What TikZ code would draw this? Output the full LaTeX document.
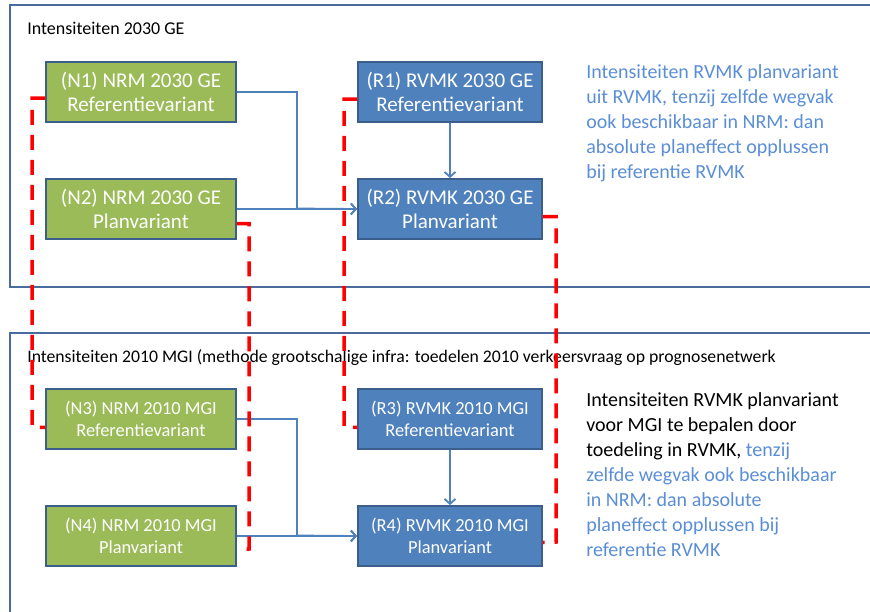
\documentclass[tikz,border=0pt]{standalone}
\usepackage{fontspec}
\setmainfont{Carlito}
\usepackage{xcolor}
\usetikzlibrary{positioning,arrows.meta}
\definecolor{nrmgroen}{HTML}{9BBB59}
\definecolor{rvmkblauw}{HTML}{4F81BD}
\definecolor{randblauw}{HTML}{3B5F8D}
\definecolor{kaderblauw}{HTML}{4A6B9D}
\definecolor{tekstblauw}{HTML}{5A8ED6}

\begin{document}
\begin{tikzpicture}[->,>={Straight Barb[length=5pt,width=11pt]},auto,node distance=117pt,semithick,x=1pt,y=-1pt]
	\tikzstyle{nrm}=[rectangle, draw=randblauw, fill=nrmgroen, text=white, line width=1.8pt, minimum width=190pt, minimum height=60pt, inner sep=0pt]
	\tikzstyle{rvmk}=[nrm, fill=rvmkblauw, minimum width=184pt]
	\tikzstyle{kader}=[-, draw=kaderblauw, line width=2.5pt]
	\tikzstyle{pijl}=[draw=rvmkblauw, line width=1.8pt]
	\tikzstyle{koppel}=[-, draw=red, line width=3.5pt, dash pattern=on 15pt off 10pt]
	\tikzstyle{groot}=[font=\fontsize{21}{24}\selectfont]
	\tikzstyle{klein}=[font=\fontsize{18.4}{22}\selectfont]
	
	\useasboundingbox (0,0) rectangle (870,611);
	
	% kaders
	\draw[kader] (871,5) -- (10,5) -- (10,287) -- (871,287);
	\draw[kader] (871,333) -- (10,333) -- (10,612);
	\node[anchor=base west, inner sep=0pt, font=\fontsize{18}{21}\selectfont] (G1) at (27,34) {Intensiteiten 2030 GE};
	\node[anchor=base west, inner sep=0pt, font=\fontsize{17.7}{21}\selectfont] (G2) at (27,362) {Intensiteiten 2010 MGI (methode grootschalige infra: toedelen 2010 verkeersvraag op prognosenetwerk};
	
	% 2030
	\node[nrm, groot] 	(N1) at (141,92) 	{\parbox{6cm}{\centering (N1) NRM 2030 GE\\Referentievariant}};
	\node[nrm, groot] 	(N2) [below of=N1] 	{\parbox{6cm}{\centering (N2) NRM 2030 GE\\Planvariant}};
	\node[rvmk, groot] 	(R1) [right of=N1, xshift=192pt] 	{\parbox{6cm}{\centering (R1) RVMK 2030 GE\\Referentievariant}};
	\node[rvmk, groot] 	(R2) [below of=R1] 	{\parbox{6cm}{\centering (R2) RVMK 2030 GE\\Planvariant}};
	
	% 2010
	\node[nrm, klein] 	(N3) [below of=N2, yshift=-93pt] 	{\parbox{6cm}{\centering (N3) NRM 2010 MGI\\Referentievariant}};
	\node[nrm, klein] 	(N4) [below of=N3] 	{\parbox{6cm}{\centering (N4) NRM 2010 MGI\\Planvariant}};
	\node[rvmk, klein] 	(R3) [right of=N3, xshift=192pt] 	{\parbox{6cm}{\centering (R3) RVMK 2010 MGI\\Referentievariant}};
	\node[rvmk, klein] 	(R4) [below of=R3] 	{\parbox{6cm}{\centering (R4) RVMK 2010 MGI\\Planvariant}};
	
	\coordinate (K1) at (297,208.5);
	\coordinate (K2) at (297,535.5);
	
	\draw[pijl] (N1.east) -| (K1) -- (R2.west);
	\draw[pijl] (N2.east) -- (R2.west);
	\draw[pijl] (R1) -- (R2);
	\draw[pijl] (N3.east) -| (K2) -- (R4.west);
	\draw[pijl] (N4.east) -- (R4.west);
	\draw[pijl] (R3) -- (R4);
	
	% koppelingen
	\draw[koppel] ([yshift=-6pt]N1.west) -| (32,427) -- ([yshift=-8.5pt]N3.west);
	\draw[koppel] ([yshift=-14.5pt]N2.east) -| (249,549) -- ([yshift=-13.5pt]N4.east);
	\draw[koppel] ([yshift=-7pt]R1.west) -| (344,427) -- ([yshift=-8.5pt]R3.west);
	\draw[koppel] ([yshift=-7.5pt]R2.east) -| (556,542) -- ([yshift=-6.5pt]R4.east);
	
	% toelichting
	\node[anchor=north west, inner sep=0pt, align=left, text=tekstblauw, font=\fontsize{20}{25}\selectfont] (T1) at (586,64) {Intensiteiten RVMK planvariant\\uit RVMK, tenzij zelfde wegvak\\ook beschikbaar in NRM: dan\\absolute planeffect opplussen\\bij referentie RVMK};
	\node[anchor=north west, inner sep=0pt, align=left, text=black, font=\fontsize{20}{25}\selectfont] (T2) at (586,392) {Intensiteiten RVMK planvariant\\voor MGI te bepalen door\\toedeling in RVMK, \textcolor{tekstblauw}{tenzij}\\\textcolor{tekstblauw}{zelfde wegvak ook beschikbaar}\\\textcolor{tekstblauw}{in NRM: dan absolute}\\\textcolor{tekstblauw}{planeffect opplussen bij}\\\textcolor{tekstblauw}{referentie RVMK}};
	
\end{tikzpicture}
\end{document}
